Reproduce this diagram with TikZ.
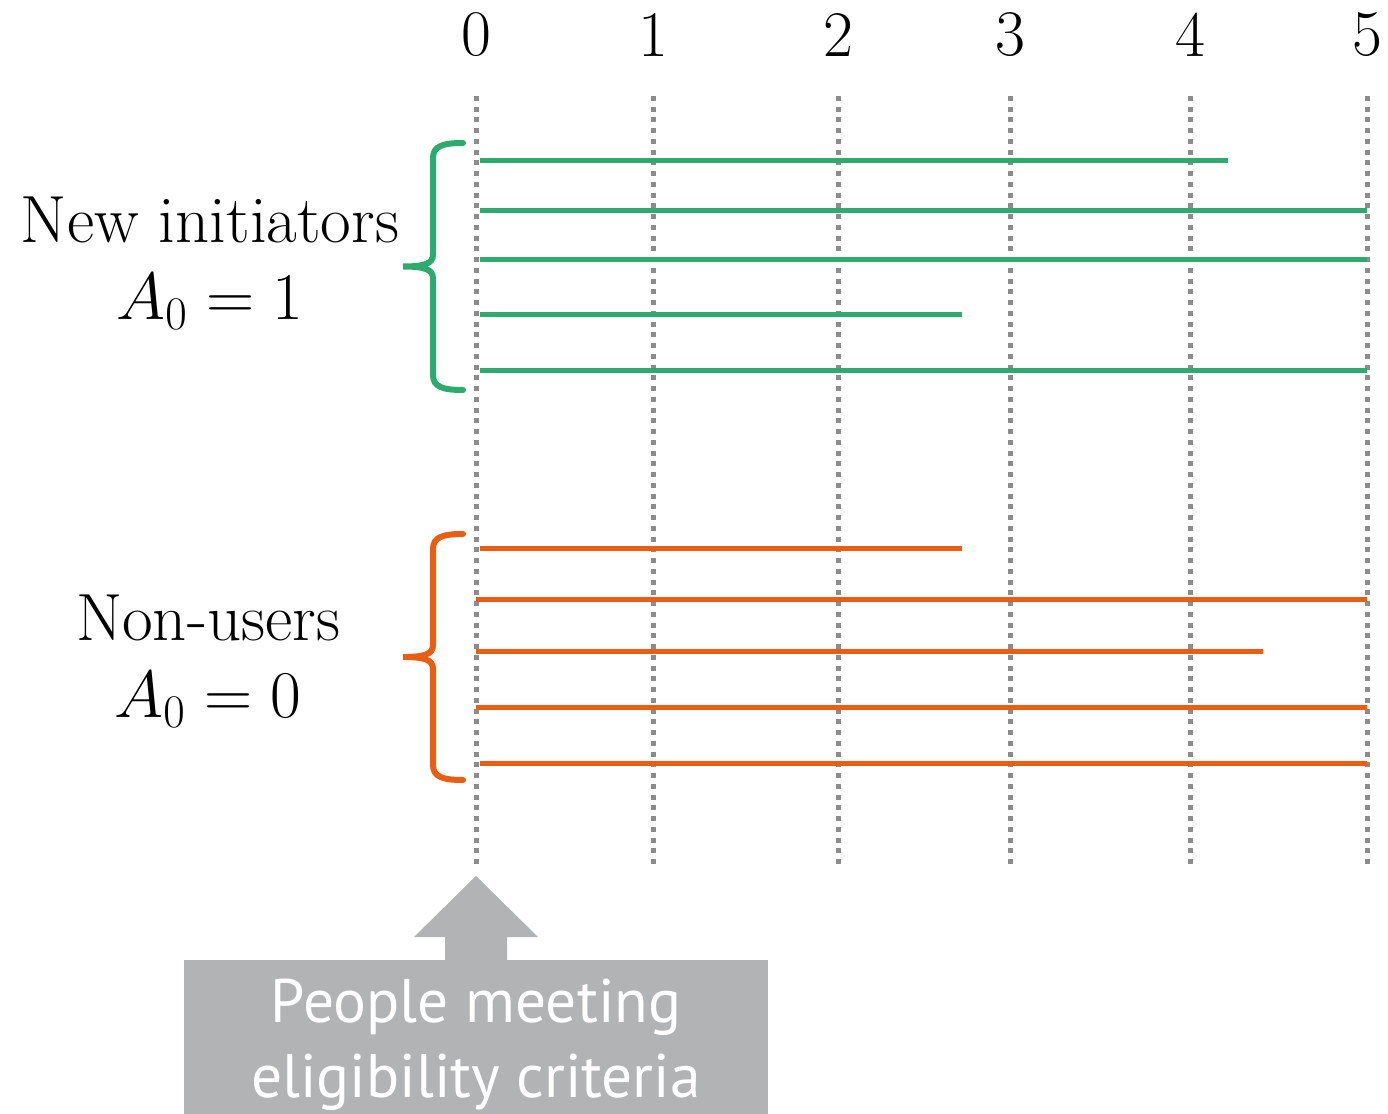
\RequirePackage{fix-cm}
\documentclass[tikz,border=0pt]{standalone}
\usepackage{fontspec}
\newfontfamily\boxfont{PT Sans}
\usepackage{tikz}
\definecolor{grn}{RGB}{46,170,110}
\definecolor{org}{RGB}{232,94,20}
\definecolor{dotgray}{RGB}{140,140,140}
\definecolor{boxgray}{RGB}{178,179,181}
\tikzset{
  timeline/.style={dotgray, line width=0.1cm, dash pattern=on 0.1cm off 0.115cm},
  spell/.style={line width=0.1cm},
  curly/.style={line width=0.12cm, line cap=round},
  ticklabel/.style={font=\fontsize{37}{40}\selectfont},
  grplabel/.style={font=\fontsize{38}{44}\selectfont, align=center},
  boxtext/.style={fill=boxgray, text=white, align=center, font=\boxfont\fontsize{35}{42.5}\selectfont}
}

\begin{document}
\begin{tikzpicture}[x=0.02cm, y=-0.02cm]
		\useasboundingbox (0,0) rectangle (1388,1114);
		\foreach \t/\x in {0/476,1/653,2/838,3/1010,4/1190,5/1367}{
			\node[ticklabel] (t\t) at (\x,35) {\t};
			\draw[timeline] (\x,96) -- (\x,866);
		}
		\foreach \s/\y/\e in {480/161/1228, 480/211/1367, 480/260/1367, 480/315/962, 480/371/1367}
			\draw[spell, grn] (\s,\y) -- (\e,\y);
		\foreach \s/\y/\e in {480/548/962, 476/599/1367, 476/651/1263, 476/707/1367, 480/763/1367}
			\draw[spell, org] (\s,\y) -- (\e,\y);
		\foreach \c/\top/\bot in {grn/143/390, org/534/780}{
			\pgfmathsetmacro\mid{(\top+\bot)/2}
			\draw[curly, \c] (463,\top) .. controls (443,\top) and (433,\top+3) .. (433,\top+15)
				-- (433,\mid-12) .. controls (433,\mid-3) and (425,\mid) .. (403,\mid)
				.. controls (425,\mid) and (433,\mid+3) .. (433,\mid+12)
				-- (433,\bot-15) .. controls (433,\bot-3) and (443,\bot) .. (463,\bot);
		}
		\node[grplabel] (newinit) at (210,263) {New initiators\\$A_0=1$};
		\node[grplabel] (nonuser) at (208,661) {Non-users\\$A_0=0$};
		\node[boxtext, anchor=north, minimum width=11.68cm, minimum height=3.12cm, text depth=0pt] (crit) at (476,960) {People meeting\\eligibility criteria};
		\fill[boxgray] (476,876) -- (538,937) -- (507,937) -- (507,961) -- (445,961) -- (445,937) -- (414,937) -- cycle;
	\end{tikzpicture}
\end{document}
